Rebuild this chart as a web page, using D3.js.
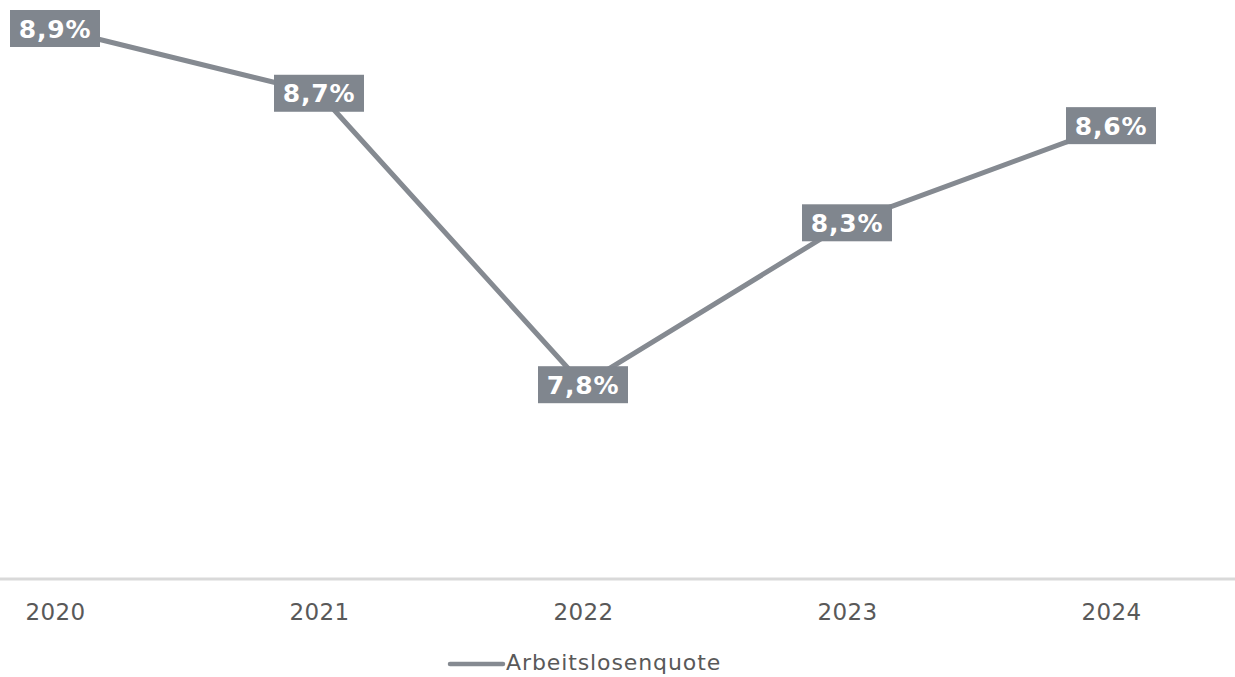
<!DOCTYPE html>
<html><head><meta charset="utf-8">
<script src="https://cdn.jsdelivr.net/npm/d3@7"></script>
<style>
html,body{margin:0;padding:0;background:#fff;}
svg{display:block;}
</style>
</head><body>
<svg id="chart" width="1235" height="677"></svg>
<script>
const categories = ["2020","2021","2022","2023","2024"];
const values = [8.9, 8.7, 7.8, 8.3, 8.6];
const labels = ["8,9%","8,7%","7,8%","8,3%","8,6%"];
const seriesName = "Arbeitslosenquote";

const W = 1235, H = 677;
const svg = d3.select("#chart");
const font = "'DejaVu Sans', Verdana, sans-serif";
const lineColor = "#858a91";
const boxColor = "#80868e";
const textColor = "#595959";

const x = d3.scalePoint().domain(categories).range([55, 1111]);
const y = d3.scaleLinear().domain([7.2, 8.9]).range([579, 28.5]);

// axis baseline
svg.append("line").attr("x1", 0).attr("x2", W).attr("y1", 579).attr("y2", 579)
  .attr("stroke", "#d9d9d9").attr("stroke-width", 3);

// x axis labels
const xAxis = d3.axisBottom(x).tickSize(0).tickPadding(0);
const gx = svg.append("g").attr("transform", "translate(0,579)").call(xAxis);
gx.select(".domain").remove();
gx.selectAll("text").attr("font-family", font).attr("font-size", 23)
  .attr("letter-spacing", 0.4)
  .attr("fill", textColor).attr("dy", null).attr("y", 40.5);

// line
const line = d3.line().x((d, i) => x(categories[i])).y(d => y(d));
svg.append("path").datum(values).attr("d", line).attr("fill", "none")
  .attr("stroke", lineColor).attr("stroke-width", 5).attr("stroke-linejoin", "round");

// data labels
const lg = svg.selectAll("g.lbl").data(values).enter().append("g").attr("class", "lbl")
  .attr("transform", (d, i) => `translate(${x(categories[i])},${y(d)})`);
lg.append("rect").attr("x", -45).attr("y", -18.5).attr("width", 90).attr("height", 37)
  .attr("fill", boxColor);
lg.append("text").text((d, i) => labels[i]).attr("text-anchor", "middle")
  .attr("dy", "0.36em").attr("font-family", font).attr("font-weight", "bold")
  .attr("font-size", 25).attr("letter-spacing", 0.8).attr("fill", "#fff");

// legend
const leg = svg.append("g");
leg.append("line").attr("x1", 450).attr("x2", 503).attr("y1", 664).attr("y2", 664)
  .attr("stroke", lineColor).attr("stroke-width", 4.5).attr("stroke-linecap", "round");
leg.append("text").attr("x", 506).attr("y", 670).text(seriesName)
  .attr("font-family", font).attr("font-size", 22).attr("letter-spacing", 0.9)
  .attr("fill", textColor);
</script>
</body></html>
